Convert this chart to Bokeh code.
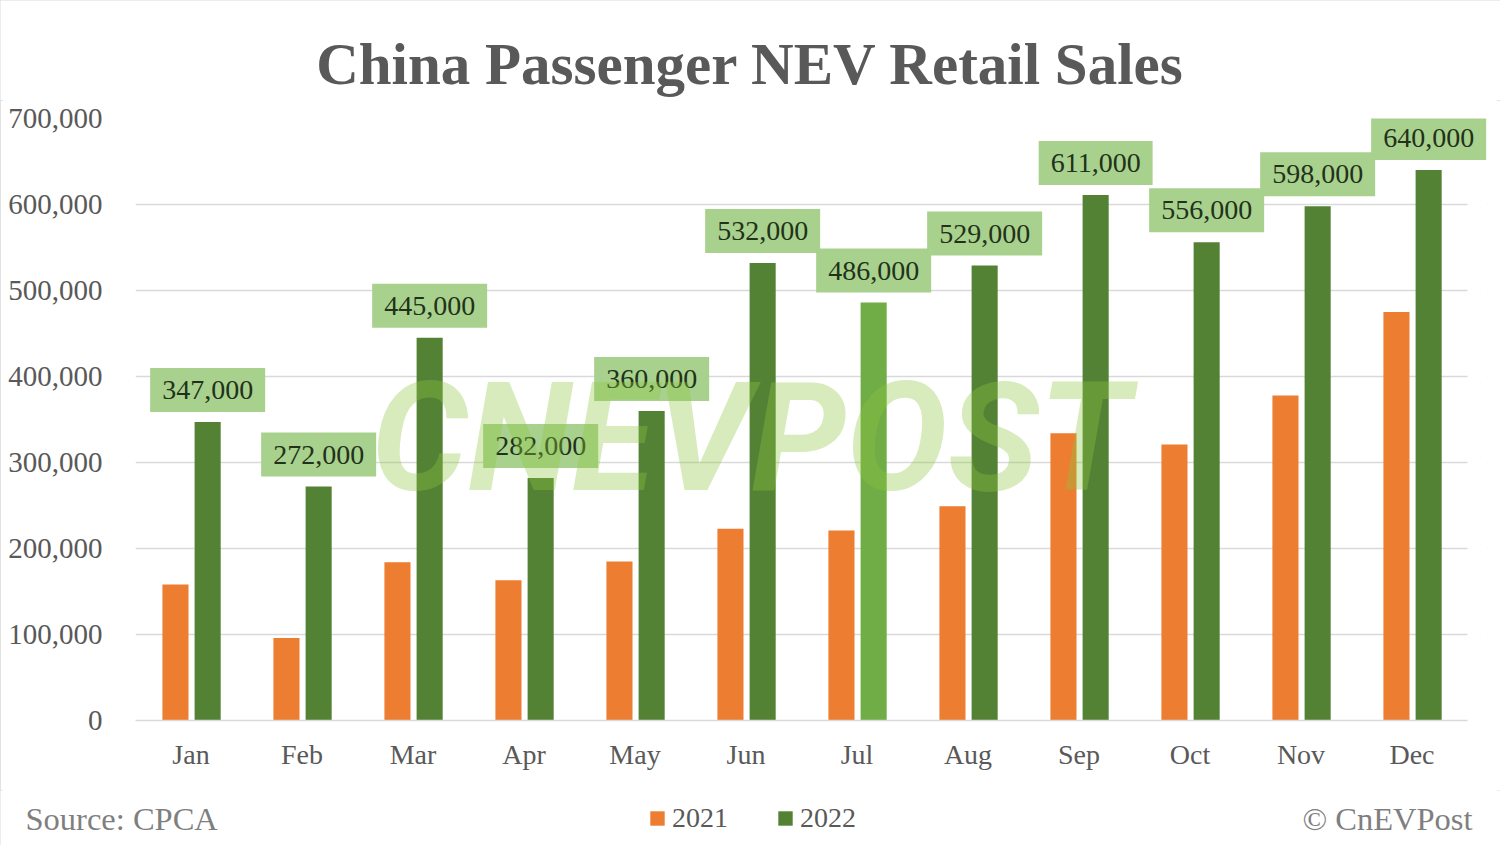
from bokeh.plotting import figure
from bokeh.layouts import column
from bokeh.models import (ColumnDataSource, Range1d, Label, BoxAnnotation,
                          Legend, LegendItem, FixedTicker, NumeralTickFormatter)
from bokeh.core.properties import value
from bokeh.transform import dodge
from bokeh.embed import file_html
from bokeh.resources import INLINE

# ---- data ----
months = ["Jan", "Feb", "Mar", "Apr", "May", "Jun", "Jul", "Aug", "Sep", "Oct", "Nov", "Dec"]
sales_2021 = [158000, 96000, 184000, 163000, 185000, 223000, 221000, 249000, 334000, 321000, 378000, 475000]
sales_2022 = [347000, 272000, 445000, 282000, 360000, 532000, 486000, 529000, 611000, 556000, 598000, 640000]
y_ticks = [0, 100000, 200000, 300000, 400000, 500000, 600000, 700000]
series_names = ["2021", "2022"]
title_text = "China Passenger NEV Retail Sales"
source_text = "Source: CPCA"
credit_text = "\u00a9 CnEVPost"
watermark_text = "CNEVPOST"
highlight_month = "Jul"

# ---- styles ----
ORANGE = "#ED7D31"
GREEN = "#548235"
GREEN_HI = "#70AD47"
BOX = "#A9D18E"
GRID = "#D9D9D9"
TXT = "#595959"
FOOT = "#7F7F7F"
SERIF = "Liberation Serif"
W = 1500

idx = list(range(len(months)))
colors_2022 = [GREEN_HI if m == highlight_month else GREEN for m in months]
src = ColumnDataSource(dict(
    idx=idx,
    y2021=sales_2021,
    y2022=sales_2022,
    lab2022=[f"{v:,}" for v in sales_2022],
    c2022=colors_2022,
))

# ---------------- header ----------------
HEAD_H = 100
head = figure(width=W, height=HEAD_H, x_range=Range1d(0, W), y_range=Range1d(0, HEAD_H),
              x_axis_location=None, y_axis_location=None, min_border=0, frame_align=False,
              output_backend="svg", toolbar_location=None)
head.outline_line_color = None
head.grid.visible = False
head.text(x=[750], y=[HEAD_H - 63], text=[title_text], text_align="center", text_baseline="middle",
          text_font=value(SERIF), text_font_style="bold", text_font_size="59px", text_color=TXT)

# ---------------- main chart ----------------
extra = 20 / 111.0
p = figure(width=W, x_range=Range1d(-0.5, len(months) - 0.5 + extra), y_range=Range1d(0, y_ticks[-1]),
           frame_width=1352, frame_height=602, frame_align=False,
           min_border_left=135, min_border_right=13, min_border_top=18, min_border_bottom=70,
           output_backend="svg", toolbar_location=None)
p.outline_line_color = None
p.background_fill_color = "white"
p.border_fill_color = "white"

p.xaxis.ticker = FixedTicker(ticks=idx)
p.xaxis.major_label_overrides = {i: m for i, m in zip(idx, months)}
p.xaxis.bounds = (-0.5, len(months) - 0.5)
p.xaxis.axis_line_color = GRID
p.xaxis.axis_line_width = 1.5
p.xaxis.major_tick_line_color = None
p.xaxis.minor_tick_line_color = None
p.xaxis.major_tick_out = 0
p.xaxis.major_tick_in = 0
p.xaxis.minor_tick_out = 0
p.xaxis.major_label_standoff = 18
p.xaxis.major_label_text_font = SERIF
p.xaxis.major_label_text_font_size = "28px"
p.xaxis.major_label_text_color = TXT

p.yaxis.axis_line_color = None
p.yaxis.major_tick_line_color = None
p.yaxis.minor_tick_line_color = None
p.yaxis.major_tick_out = 0
p.yaxis.major_tick_in = 0
p.yaxis.minor_tick_out = 0
p.yaxis.major_label_standoff = 33
p.yaxis.ticker = FixedTicker(ticks=y_ticks)
p.yaxis.formatter = NumeralTickFormatter(format="0,0")
p.yaxis.major_label_text_font = SERIF
p.yaxis.major_label_text_font_size = "29px"
p.yaxis.major_label_text_color = TXT

p.xgrid.grid_line_color = None
p.ygrid.ticker = FixedTicker(ticks=y_ticks)
p.ygrid.grid_line_color = GRID
p.ygrid.grid_line_width = 1.5
# hide grid beyond the last category (extra room only for the last data label)
p.add_layout(BoxAnnotation(left=len(months) - 0.5, fill_color="white", fill_alpha=1.0,
                           line_color=None, level="underlay"))

# bars
r1 = p.vbar(x=dodge("idx", -0.14), top="y2021", width=0.235,
            source=src, fill_color=ORANGE, line_color=None)
r2 = p.vbar(x=dodge("idx", 0.15), top="y2022", width=0.235,
            source=src, fill_color="c2022", line_color=None)

# watermark
p.add_layout(Label(x=615, y=283, x_units="screen", y_units="screen", text=watermark_text,
                   text_align="center", text_baseline="alphabetic",
                   text_font="Roboto", text_font_style="bold italic", text_font_size="152px",
                   text_color="#8DC63F", text_alpha=0.35))

# data labels 2022
p.text(x=dodge("idx", 0.15), y="y2022", text="lab2022", source=src,
       y_offset=-32, text_align="center", text_baseline="middle",
       text_font=value(SERIF), text_font_size="28px", text_color="#22321A",
       background_fill_color=BOX, background_fill_alpha=1.0,
       padding=dict(left=12, right=12, top=13, bottom=13))

# ---------------- footer ----------------
FOOT_H = 55
foot = figure(width=W, height=FOOT_H, x_range=Range1d(0, W), y_range=Range1d(0, FOOT_H),
              x_axis_location=None, y_axis_location=None, min_border=0, frame_align=False,
              output_backend="svg", toolbar_location=None)
foot.outline_line_color = None
foot.grid.visible = False
foot.text(x=[25], y=[27], text=[source_text], text_align="left", text_baseline="middle",
          text_font=value(SERIF), text_font_size="32.5px", text_color=FOOT)
foot.text(x=[1472], y=[27], text=[credit_text], text_align="right", text_baseline="middle",
          text_font=value(SERIF), text_font_size="32.5px", text_color=FOOT)
# legend keys: zero-size proxies styled like the bars in the main chart
k1 = foot.vbar(x=[0], top=[0], bottom=[0], width=0, fill_color=ORANGE, line_color=None)
k2 = foot.vbar(x=[0], top=[0], bottom=[0], width=0, fill_color=GREEN, line_color=None)
legend = Legend(items=[LegendItem(label=series_names[0], renderers=[k1], index=0),
                       LegendItem(label=series_names[1], renderers=[k2], index=0)],
                orientation="horizontal", location=(648, 11),
                glyph_width=18, glyph_height=18, label_standoff=6, spacing=48,
                padding=0, margin=0, border_line_color=None, background_fill_alpha=0,
                label_text_font=SERIF, label_text_font_size="28px", label_text_color=TXT)
foot.add_layout(legend, "center")

layout = column(head, p, foot, spacing=0)
layout.styles = {"outline": "3px solid #D9D9D9", "outline-offset": "-3px"}

open("out.html", "w").write(file_html(layout, INLINE))
